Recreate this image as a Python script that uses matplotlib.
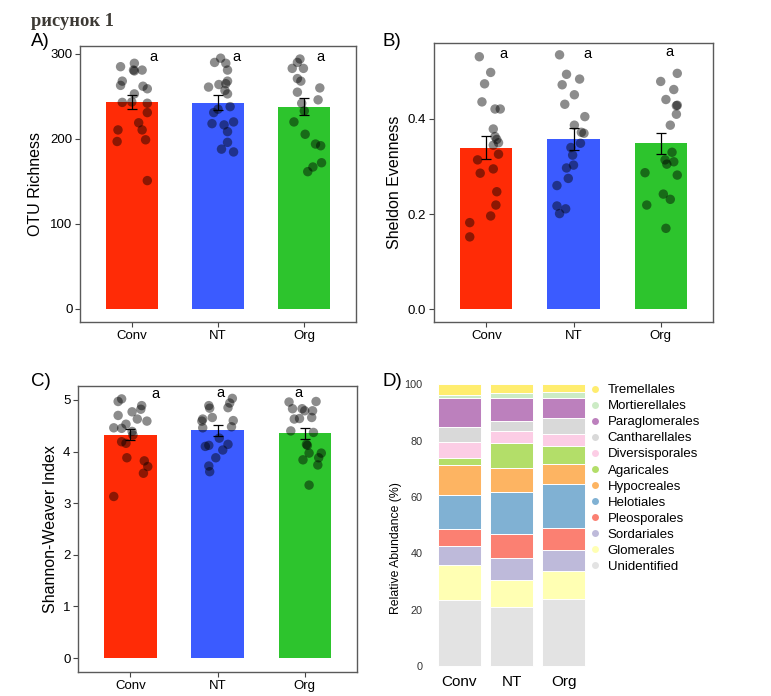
import numpy as np
import matplotlib
matplotlib.use('Agg')
import matplotlib.pyplot as plt
from matplotlib.lines import Line2D

plt.rcParams['font.family'] = ['Liberation Sans', 'DejaVu Sans']

groups = ['Conv', 'NT', 'Org']
bar_colors = ['#ff2b06', '#3b5bff', '#2dc42d']

# A) OTU richness
rich_mean = [243.5, 242.5, 238]
rich_se = [8, 9, 10]
rich_pts = [
    [285, 289, 281, 280, 281, 268, 263, 253, 262, 259, 243, 243.5, 242, 231, 219, 210.6, 210.6, 197, 199, 151],
    [295, 290, 289, 281, 268, 265, 261, 264, 257, 253, 235, 238, 231, 218, 216.5, 220, 208.6, 196, 188, 184.7],
    [294, 290, 283, 283, 271, 268, 260, 255, 246, 242, 233, 220, 205.5, 194, 192, 172, 167, 161.5],
]
rich_jit = [
    [-0.13, 0.03, 0.12, 0.03, 0.02, -0.11, -0.13, 0.03, 0.13, 0.18, -0.11, 0.0, 0.18, 0.18, 0.08, -0.16, 0.12, -0.17, 0.16, 0.18],
    [0.03, -0.04, 0.09, 0.11, 0.11, 0.09, -0.11, 0.01, 0.08, 0.11, 0.0, 0.14, -0.05, -0.07, 0.07, 0.18, 0.11, 0.11, 0.04, 0.18],
    [-0.05, -0.08, -0.14, -0.01, -0.08, -0.04, 0.18, -0.08, 0.16, -0.03, 0.0, -0.12, 0.01, 0.13, 0.19, 0.2, 0.1, 0.04],
]
rich_letter_x = [0.25, 0.21, 0.19]
rich_letter_y = [296, 296, 296]

# B) Sheldon evenness
even_mean = [0.340, 0.358, 0.349]
even_se = [0.0245, 0.024, 0.022]
even_pts = [
    [0.531, 0.498, 0.474, 0.436, 0.421, 0.421, 0.379, 0.363, 0.357, 0.350, 0.345, 0.326, 0.314, 0.295, 0.286, 0.247, 0.219, 0.196, 0.182, 0.152],
    [0.535, 0.494, 0.484, 0.472, 0.451, 0.431, 0.405, 0.387, 0.372, 0.370, 0.349, 0.340, 0.324, 0.303, 0.297, 0.275, 0.260, 0.217, 0.211, 0.201],
    [0.496, 0.479, 0.462, 0.441, 0.429, 0.428, 0.410, 0.387, 0.330, 0.314, 0.310, 0.305, 0.287, 0.282, 0.242, 0.231, 0.219, 0.170],
]
even_jit = [
    [-0.08, 0.05, -0.02, -0.05, 0.10, 0.16, 0.08, 0.10, 0.12, 0.14, 0.08, 0.14, -0.10, 0.08, -0.07, 0.12, 0.11, 0.05, -0.19, -0.19],
    [-0.16, -0.08, 0.07, -0.13, 0.01, -0.10, 0.13, 0.01, 0.09, 0.12, 0.08, -0.03, -0.01, 0.0, -0.08, -0.06, -0.19, -0.19, -0.09, -0.16],
    [0.19, 0.0, 0.15, 0.06, 0.19, 0.18, 0.18, 0.11, 0.13, 0.05, 0.15, 0.07, -0.18, 0.19, 0.03, 0.11, -0.16, 0.06],
]
even_letter_x = [0.20, 0.16, 0.10]
even_letter_y = [0.536, 0.536, 0.540]

# C) Shannon-Weaver
shan_mean = [4.33, 4.41, 4.35]
shan_se = [0.10, 0.10, 0.10]
shan_pts = [
    [5.02, 4.97, 4.89, 4.82, 4.77, 4.70, 4.63, 4.59, 4.53, 4.46, 4.45, 4.39, 4.32, 4.19, 4.16, 3.88, 3.82, 3.71, 3.58, 3.13],
    [5.03, 4.94, 4.89, 4.84, 4.85, 4.63, 4.66, 4.59, 4.60, 4.46, 4.48, 4.26, 4.10, 4.12, 4.14, 4.03, 3.88, 3.72, 3.61],
    [4.96, 4.97, 4.83, 4.83, 4.79, 4.79, 4.66, 4.64, 4.63, 4.40, 4.37, 4.14, 4.12, 3.97, 3.97, 3.84, 3.88, 3.74, 3.35],
]
shan_jit = [
    [-0.10, -0.14, 0.13, 0.12, 0.02, -0.14, 0.08, 0.19, -0.05, -0.19, -0.10, 0.02, 0.03, -0.10, -0.05, -0.04, 0.16, 0.20, 0.15, -0.19],
    [0.17, 0.14, -0.10, -0.09, 0.12, -0.17, -0.06, -0.18, 0.18, -0.17, 0.16, 0.02, -0.14, -0.10, 0.12, 0.06, -0.02, -0.10, -0.09],
    [-0.18, 0.13, -0.14, -0.03, 0.09, 0.0, 0.08, -0.06, -0.12, -0.16, 0.10, 0.02, 0.03, 0.05, 0.19, -0.02, 0.16, 0.15, 0.05],
]
shan_letter_x = [0.29, 0.03, -0.07]
shan_letter_y = [5.11, 5.13, 5.13]

# D) relative abundance, bottom -> top
orders = ['Unidentified', 'Glomerales', 'Sordariales', 'Pleosporales', 'Helotiales',
          'Hypocreales', 'Agaricales', 'Diversisporales', 'Cantharellales',
          'Paraglomerales', 'Mortierellales', 'Tremellales']
order_colors = ['#e3e3e3', '#ffffb3', '#bebada', '#fb8072', '#80b1d3', '#fdb462',
                '#b3de69', '#fccde5', '#d9d9d9', '#bc80bd', '#ccebc5', '#ffed6f']
abund_conv = [23.5, 12.4, 6.7, 6.1, 12.1, 10.4, 2.6, 5.5, 5.4, 10.2, 1.3, 3.8]
abund_nt = [21.1, 9.5, 7.8, 8.5, 14.7, 8.5, 9.0, 4.1, 3.7, 8.0, 1.8, 3.3]
abund_org = [24.0, 9.8, 7.4, 7.7, 15.7, 7.0, 6.6, 4.2, 5.7, 7.1, 1.9, 2.9]


def bar_panel(ax, means, se, pts, jit, lx, ly, ylabel, ylim, yticks, labelx):
    x = np.arange(len(groups))
    ax.bar(x, means, width=0.6, color=bar_colors, edgecolor='none', zorder=1)
    for i in range(len(groups)):
        ax.scatter(i + np.array(jit[i]), pts[i], s=46, color='black', alpha=0.45,
                   edgecolors='none', zorder=2)
        ax.text(i + lx[i], ly[i], 'a', fontsize=10.5, ha='center', va='center')
    ax.errorbar(x, means, yerr=se, fmt='none', ecolor='black', elinewidth=0.9,
                capsize=3.5, capthick=0.9, zorder=3)
    ax.set_xlim(-0.6, 2.6)
    ax.set_ylim(*ylim)
    ax.set_yticks(yticks)
    ax.set_xticks(x)
    ax.set_xticklabels(groups)
    ax.set_ylabel(ylabel, fontsize=11.5)
    ax.yaxis.set_label_coords(labelx, 0.5)
    for s in ax.spines.values():
        s.set_color('#5a5a5a')
        s.set_linewidth(1.0)
    ax.tick_params(labelsize=9.5, length=3.5, width=0.8, color='#444444', pad=2)


fig = plt.figure(figsize=(7.71, 6.96), dpi=100)

axA = fig.add_axes([0.1038, 0.5374, 0.358, 0.3966])
bar_panel(axA, rich_mean, rich_se, rich_pts, rich_jit, rich_letter_x, rich_letter_y,
          'OTU Richness', (-15.3, 309.4), [0, 100, 200, 300], -0.134)

axB = fig.add_axes([0.5629, 0.5374, 0.3619, 0.4009])
bar_panel(axB, even_mean, even_se, even_pts, even_jit, even_letter_x, even_letter_y,
          'Sheldon Evenness', (-0.027, 0.56), [0.0, 0.2, 0.4], -0.115)
axB.set_yticklabels(['0.0', '0.2', '0.4'])

axC = fig.add_axes([0.1012, 0.0345, 0.3619, 0.4109])
bar_panel(axC, shan_mean, shan_se, shan_pts, shan_jit, shan_letter_x, shan_letter_y,
          'Shannon-Weaver Index', (-0.27, 5.27), [0, 1, 2, 3, 4, 5], -0.072)

# D) stacked bars
axD = fig.add_axes([0.5551, 0.0345, 0.2166, 0.4198])
stack = np.array([abund_conv, abund_nt, abund_org])
bottom = np.zeros(len(groups))
xd = np.arange(len(groups))
for j, name in enumerate(orders):
    axD.bar(xd, stack[:, j], bottom=bottom, width=0.83, color=order_colors[j],
            edgecolor='white', linewidth=0.7)
    bottom += stack[:, j]
axD.set_xlim(-0.6, 2.6)
axD.set_ylim(-2, 101.5)
axD.set_yticks([0, 20, 40, 60, 80, 100])
axD.set_xticks(xd)
axD.set_xticklabels(groups)
for s in axD.spines.values():
    s.set_visible(False)
axD.tick_params(axis='y', labelsize=7.8, length=0, pad=4, labelcolor='#333333')
axD.tick_params(axis='x', labelsize=11, length=0, pad=2)
axD.set_ylabel('Relative Abundance (%)', fontsize=8.8)
axD.yaxis.set_label_coords(-0.156, 0.424)

handles = [Line2D([0], [0], marker='o', linestyle='none', markersize=5,
                  markerfacecolor=order_colors[j], markeredgecolor='none')
           for j in range(len(orders))][::-1]
fig.legend(handles, orders[::-1], loc='upper left', bbox_to_anchor=(588 / 771, 1 - 384 / 696),
           frameon=False, fontsize=9.5, handlelength=1.0, handletextpad=0.5,
           labelspacing=0.29, borderpad=0, borderaxespad=0)

# panel letters and title
fig.text(31 / 771, 1 - 26 / 696, 'рисунок 1', fontsize=13.3, fontweight='bold',
         family=['Liberation Serif', 'DejaVu Serif'], color='#3d3a35')
fig.text(31 / 771, 1 - 46 / 696, 'A)', fontsize=13.5)
fig.text(382 / 771, 1 - 46 / 696, 'B)', fontsize=13.5)
fig.text(31 / 771, 1 - 386 / 696, 'C)', fontsize=13.5)
fig.text(382 / 771, 1 - 386 / 696, 'D)', fontsize=13.5)

fig.savefig('out.png', dpi=100)
